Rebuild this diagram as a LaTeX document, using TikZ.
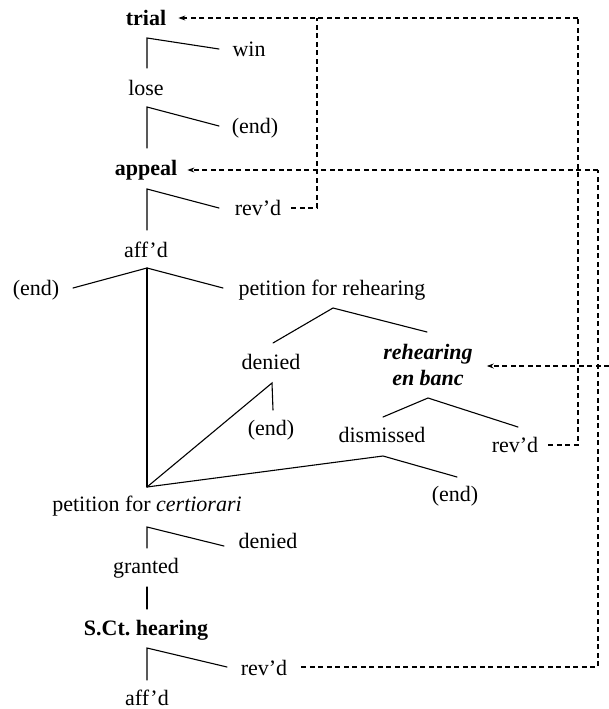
\documentclass[tikz,border=0pt]{standalone}
\usepackage{fontspec}
\setmainfont{Liberation Serif}
\usetikzlibrary{arrows.meta}
\frenchspacing
\begin{document}
\begin{tikzpicture}[x=1pt,y=-1pt,
  lbl/.style={inner sep=0pt,font=\fontsize{22}{26}\selectfont},
  blbl/.style={lbl,font=\fontsize{22}{26}\selectfont\bfseries},
  branch/.style={line width=1.1pt,line cap=round},
  back/.style={line width=1.1pt,dash pattern=on 5pt off 3.5pt},
  backarrow/.style={back,-{Stealth[length=7pt,width=5pt]}}]
\useasboundingbox (0,0) rectangle (609,709);
% nodes
\node[blbl] (trial) at (146,18) {trial};
\node[lbl] (win) at (249,49) {win};
\node[lbl] (lose) at (146,88) {lose};
\node[lbl] (end1) at (255,128) {(end)};
\node[blbl] (appeal) at (146,170) {appeal};
\node[lbl] (rev1) at (258,208) {rev’d};
\node[lbl] (aff1) at (146,250) {aff’d};
\node[lbl] (end2) at (36,290) {(end)};
\node[lbl] (pfr) at (332,290) {petition for rehearing};
\node[lbl] (denied1) at (271,362) {denied};
\node[lbl,align=center,font=\fontsize{22}{26}\selectfont\bfseries\itshape] (banc) at (428,365) {rehearing\\en banc};
\node[lbl] (end3) at (271,430) {(end)};
\node[lbl] (dism) at (382,435) {dismissed};
\node[lbl] (rev2) at (515,445) {rev’d};
\node[lbl] (end4) at (455,496) {(end)};
\node[lbl] (cert) at (147,506) {petition for \textit{certiorari}};
\node[lbl] (denied2) at (268,541) {denied};
\node[lbl] (granted) at (146,568) {granted};
\node[blbl] (sct) at (146,630) {S.Ct. hearing};
\node[lbl] (rev3) at (264,668) {rev’d};
\node[lbl] (aff2) at (147,698) {aff’d};
% branch points
\coordinate (t0) at (147,38);  \coordinate (t1) at (147,68);  \coordinate (t2) at (219,49);
\coordinate (l0) at (147,107); \coordinate (l1) at (147,148); \coordinate (l2) at (219,126);
\coordinate (a0) at (147,189); \coordinate (a1) at (147,230); \coordinate (a2) at (219,208);
\coordinate (A) at (147,268);  \coordinate (Al) at (73,288);  \coordinate (Ar) at (223,288);
\coordinate (C) at (147,487);
\coordinate (P) at (333,308);  \coordinate (Pl) at (273,343); \coordinate (Pr) at (427,332);
\coordinate (D) at (272,383);  \coordinate (Dd) at (273,410);
\coordinate (R) at (428,398);  \coordinate (Rl) at (383,417); \coordinate (Rr) at (518,427);
\coordinate (M) at (383,456);  \coordinate (Mr) at (457,477);
\coordinate (c0) at (147,527); \coordinate (c1) at (147,548); \coordinate (c2) at (224,546);
\coordinate (g0) at (147,587); \coordinate (g1) at (147,609);
\coordinate (s0) at (147,648); \coordinate (s1) at (147,680); \coordinate (s2) at (227,667);
% branches
\draw[branch] (t1) -- (t0) -- (t2);
\draw[branch] (l1) -- (l0) -- (l2);
\draw[branch] (a1) -- (a0) -- (a2);
\draw[branch] (Al) -- (A) -- (Ar);
\draw[branch] (A) -- (C);
\draw[branch] (Pl) -- (P) -- (Pr);
\draw[branch] (Dd) -- (D) -- (C);
\draw[branch] (Rl) -- (R) -- (Rr);
\draw[branch] (C) -- (M) -- (Mr);
\draw[branch] (c1) -- (c0) -- (c2);
\draw[branch] (g0) -- (g1);
\draw[branch] (s1) -- (s0) -- (s2);
% dashed back-references
\coordinate (k1) at (317,208);
\coordinate (k2) at (578,18);
\coordinate (k3) at (578,445);
\coordinate (k4) at (598,170);
\coordinate (k5) at (598,667);
\coordinate (k6) at (609,366);
\draw[back] ([xshift=10pt]rev1.east) -- (k1) -- (k1 |- k2);
\draw[back] ([xshift=10pt]rev2.east |- k3) -- (k3) -- (k2);
\draw[backarrow] (k2) -- ([xshift=12pt]trial.east |- k2);
\draw[back] ([xshift=14pt]rev3.east |- k5) -- (k5) -- (k4);
\draw[backarrow] (k4) -- ([xshift=10pt]appeal.east |- k4);
\draw[backarrow] (k6) -- ([xshift=14pt]banc.east |- k6);
\end{tikzpicture}
\end{document}
